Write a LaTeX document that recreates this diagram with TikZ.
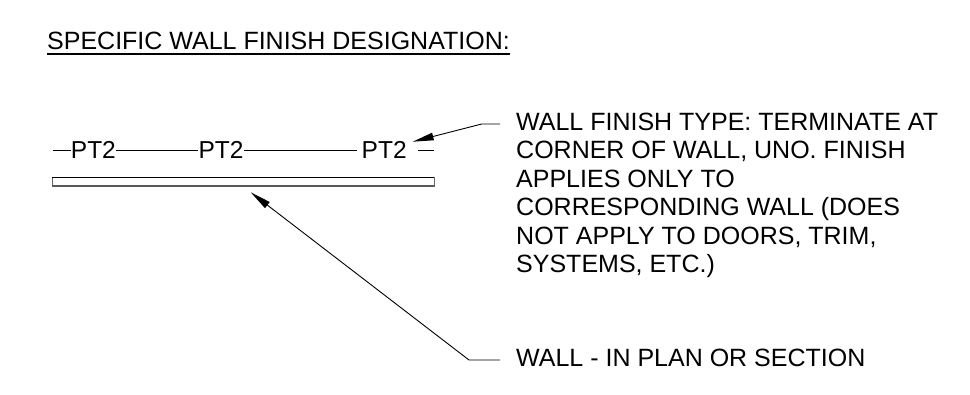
\documentclass[tikz,border=0pt]{standalone}
\usepackage{fontspec}
\setmainfont{Liberation Sans}
\usetikzlibrary{arrows.meta}
\begin{document}
\begin{tikzpicture}[x=1pt,y=-1pt,
  txt/.style={font=\fontsize{25}{28}\selectfont,inner sep=0pt,anchor=base west},
  tag/.style={font=\fontsize{24.5}{28}\selectfont,inner sep=0pt,anchor=base},
  thin/.style={line width=0.9pt,black},
  leader/.style={line width=0.9pt,black,{Triangle[length=21pt,width=7.5pt]}-}]
\useasboundingbox (0,0) rectangle (970,394);
% title
\node[txt] (title) at (47,49.3) {SPECIFIC WALL FINISH DESIGNATION:};
\draw[line width=2pt] ([yshift=-5pt]title.base west) -- ([yshift=-5pt]title.base east);
% PT2 row
\node[tag] (p1) at (93.4,158) {PT2};
\node[tag] (p2) at (221,158) {PT2};
\node[tag] (p3) at (384.2,158) {PT2};
\coordinate (d0) at (52.7,150.5);
\coordinate (l1a) at (120,150.5);
\coordinate (l1b) at (196.7,150.5);
\coordinate (l2a) at (246.7,150.5);
\coordinate (l2b) at (357,150.5);
\coordinate (d2) at (418,150.5);
\coordinate (d3) at (434,150.5);
\draw[thin] (d0) -- (d0 -| p1.west);
\draw[thin] (l1a -| p1.east) -- (l1b -| p2.west);
\draw[thin] (l2a -| p2.east) -- (l2b);
\draw[thin] (d2) -- (d3);
% wall
\coordinate (wl) at (52,177.5);
\coordinate (wr) at (434,186.5);
\fill[white] (wl) rectangle (wr);
\draw[line width=0.8pt,black!60] (wl) rectangle (wr);
\draw[line width=1.2pt,black] (wl) -- (wl -| wr);
\draw[line width=2.2pt,black!65] (52,186) -- (434,186);
% notes
\node[txt] (n1) at (516,130) {WALL FINISH TYPE: TERMINATE AT};
\node[txt] (n2) at (516,158.5) {CORNER OF WALL, UNO. FINISH};
\node[txt] (n3) at (516,187) {APPLIES ONLY TO};
\node[txt] (n4) at (516,215.5) {CORRESPONDING WALL (DOES};
\node[txt] (n5) at (516,244) {NOT APPLY TO DOORS, TRIM,};
\node[txt] (n6) at (516,272.5) {SYSTEMS, ETC.)};
\node[txt] (w1) at (516,366.5) {WALL - IN PLAN OR SECTION};
% leaders
\coordinate (t1) at (412.7,141.7);
\coordinate (k1) at (481.7,124);
\coordinate (e1) at (500,124);
\draw[leader] (t1) -- (k1) -- (e1);
\coordinate (t2) at (250.7,192.3);
\coordinate (k2) at (469,360);
\coordinate (e2) at (500,360);
\draw[leader] (t2) -- (k2) -- (e2);
\end{tikzpicture}
\end{document}
